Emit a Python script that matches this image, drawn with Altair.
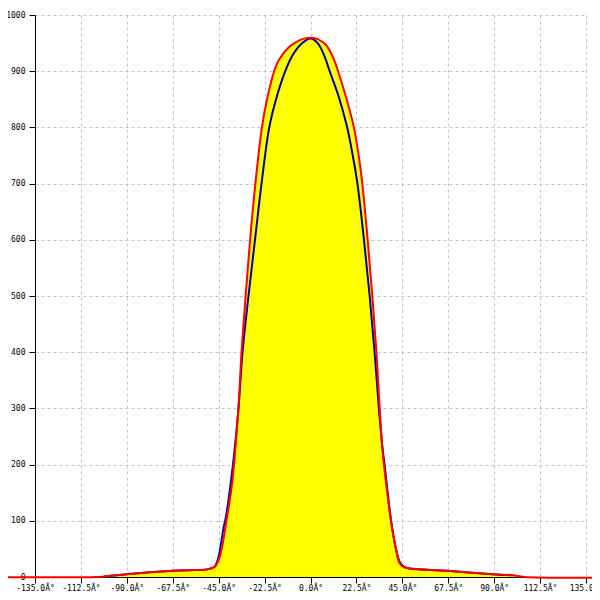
import altair as alt
import pandas as pd

# Outer (red) curve, degrees / value
red_deg = [-180, -105, -101, -90, -67.5, -50, -47, -45, -43, -41.3, -39, -37.5, -36.8,
           -35.3, -33.8, -31.8, -29.6, -27.0, -23.8, -21.0, -17.8, -15.5, -10.5, -5.5,
           -1.5, 1.5, 3.5, 7.5, 11.0, 13.6, 17.3, 21.2, 23.6, 25.4, 28.0, 30.3, 32.3, 33.9, 35.2,
           36.0, 37.6, 39.5, 42, 43.6, 46, 49, 67, 89, 99, 105, 180]
red_val = [0, 0, 1, 5, 11, 14, 18, 30, 60, 98, 150, 199, 230,
           300, 400, 500, 600, 700, 800, 855, 900, 920, 943, 955,
           959, 959, 957, 947, 925, 899, 855, 801, 750, 700, 600, 500, 400, 300, 229,
           199, 150, 98, 48, 25, 17, 15, 11, 5, 3, 0, 0]

# Inner (blue) curve
blue_deg = [-101, -90, -67.5, -50, -47, -45.5, -44.5, -42.5, -41.8, -38, -35.3, -33.3,
            -30.4, -27.2, -24.0, -20.2, -16.5, -12.5, -8.5, -4.0, 0, 3.5, 6.5, 9.5, 13.8, 17.9,
            20.7, 23, 26.2, 29, 31.4, 33.5, 35.3, 36.3, 39.5, 42, 44, 46, 48.5, 67, 89, 99]
blue_val = [1, 5, 11, 14, 18, 30, 45, 90, 100, 200, 300, 400,
            500, 600, 700, 800, 855, 899, 930, 950, 958, 950, 930, 899, 855, 801,
            750, 700, 600, 500, 400, 300, 229, 200, 100, 48, 25, 18, 15, 11, 5, 3]

x_ticks = [-135, -112.5, -90, -67.5, -45, -22.5, 0, 22.5, 45, 67.5, 90, 112.5, 135]
y_ticks = [0, 100, 200, 300, 400, 500, 600, 700, 800, 900, 1000]

red_df = pd.DataFrame({"deg": red_deg, "val": red_val})
blue_df = pd.DataFrame({"deg": blue_deg, "val": blue_val})

FONT = "DejaVu Sans Mono"

x_scale = alt.Scale(domain=[-135, 135], nice=False, zero=False)
y_scale = alt.Scale(domain=[0, 1000], nice=False)

x_axis = alt.Axis(
    values=x_ticks, title=None, grid=True, gridDash=[3, 3], gridColor="#c4c4c4",
    domainColor="black", tickColor="black", tickSize=6, labelPadding=1,
    labelFont=FONT, labelFontSize=8, labelColor="black",
    labelExpr="(datum.value < 0 ? '-' : '') + format(abs(datum.value), '.1f') + 'Â°'",
    labelFlush=False, labelOverlap=False,
)
y_axis = alt.Axis(
    values=y_ticks, title=None, grid=True, gridDash=[3, 3], gridColor="#c4c4c4",
    domainColor="black", tickColor="black", tickSize=6, labelPadding=4,
    labelFont=FONT, labelFontSize=8, labelColor="black", format="d",
    labelFlush=False, labelOverlap=False,
)

area = alt.Chart(red_df).mark_area(
    color="#FFFF00", interpolate="catmull-rom", clip=False
).encode(
    x=alt.X("deg:Q", scale=x_scale, axis=x_axis),
    y=alt.Y("val:Q", scale=y_scale, axis=y_axis),
)

blue = alt.Chart(blue_df).mark_line(
    color="#0000b0", strokeWidth=2, interpolate="catmull-rom", clip=False
).encode(x=alt.X("deg:Q", scale=x_scale), y=alt.Y("val:Q", scale=y_scale))

red = alt.Chart(red_df).mark_line(
    color="#FF0000", strokeWidth=2, interpolate="catmull-rom", clip=False
).encode(x=alt.X("deg:Q", scale=x_scale), y=alt.Y("val:Q", scale=y_scale))

chart = alt.layer(area, blue, red).properties(
    width=551, height=562,
    autosize=alt.AutoSizeParams(type="none"),
    padding={"left": 27, "top": 7, "right": 6, "bottom": 15},
    background="white",
).configure_view(stroke=None)

chart.save("out.html", embed_options={"renderer": "svg", "actions": False})
